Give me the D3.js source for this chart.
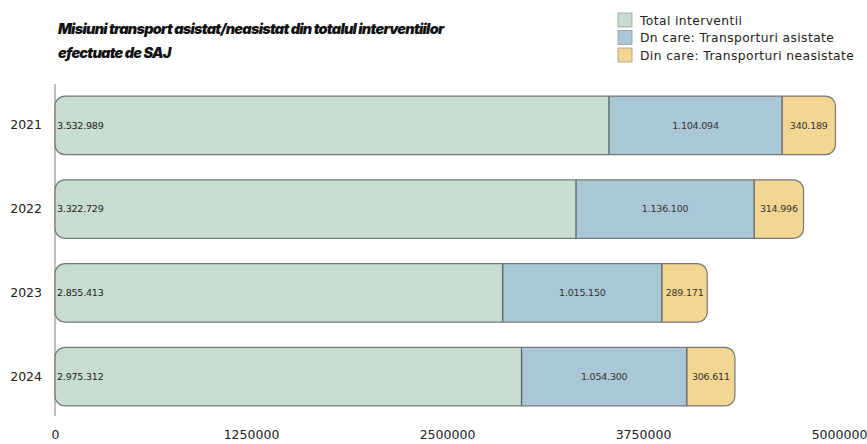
<!DOCTYPE html>
<html><head><meta charset="utf-8">
<script src="https://cdn.jsdelivr.net/npm/d3@7/dist/d3.min.js"></script>
<style>body{margin:0;background:#fff;}svg{display:block;}</style>
</head><body>
<script>
const years = ["2021","2022","2023","2024"];
const totalInterventii = [3532989, 3322729, 2855413, 2975312];
const transportAsistat = [1104094, 1136100, 1015150, 1054300];
const transportNeasistat = [340189, 314996, 289171, 306611];
const seriesNames = ["Total interventii","Dn care: Transporturi asistate","Din care: Transporturi neasistate"];
const seriesColors = ["#c7ddcf","#a9c7d6","#f3d691"];
const xTicks = [0, 1250000, 2500000, 3750000, 5000000];
const titleLines = ["Misiuni transport asistat/neasistat din totalul interventiilor","efectuate de SAJ"];

const W = 867, H = 444;
const svg = d3.select("body").append("svg").attr("width", W).attr("height", H);

const x = d3.scaleLinear().domain([0, 5000000]).range([55, 839]);
const y = d3.scaleBand().domain(years).range([71, 431]).padding(0.3);

const ro = d3.formatLocale({decimal: ",", thousands: ".", grouping: [3], currency: ["", ""]});
const fmt = ro.format(",d");
const sans = "DejaVu Sans";

// title
svg.append("g").selectAll("text").data(titleLines).join("text")
  .attr("x", 58).attr("y", (d, i) => 34 + i * 24)
  .attr("font-family", "Inter").attr("font-weight", 900).attr("font-style", "italic")
  .attr("font-size", 14.5).attr("letter-spacing", -0.75).attr("fill", "#111").text(d => d);

// legend
const lg = svg.append("g").attr("transform", "translate(618,13)");
seriesNames.forEach((n, i) => {
  lg.append("rect").attr("x", 0).attr("y", i * 17.5).attr("width", 14).attr("height", 14)
    .attr("fill", seriesColors[i]).attr("stroke", "#999").attr("stroke-width", 0.8);
  lg.append("text").attr("x", 22).attr("y", i * 17.5 + 11.5)
    .attr("font-family", sans).attr("font-size", 12.3).attr("letter-spacing", 0.4).attr("fill", "#222").text(n);
});

// axis line
svg.append("line").attr("x1", 55).attr("x2", 55).attr("y1", 84).attr("y2", 416)
  .attr("stroke", "#aaa").attr("stroke-width", 1.5);

// x axis labels
const xAxis = d3.axisBottom(x).tickValues(xTicks).tickFormat(d3.format("d")).tickSize(0).tickPadding(0);
const xg = svg.append("g").attr("transform", "translate(0,428)").call(xAxis);
xg.select(".domain").remove();
xg.selectAll("text").attr("font-family", sans).attr("font-size", 12.5).attr("fill", "#222").attr("dy", "0.9em");

// y labels
const yAxis = d3.axisLeft(y).tickSize(0).tickPadding(13);
const yg = svg.append("g").attr("transform", "translate(55,0)").call(yAxis);
yg.select(".domain").remove();
yg.selectAll("text").attr("font-family", sans).attr("font-size", 12.5).attr("fill", "#222");

const data = years.map((yr, i) => ({yr, vals: [totalInterventii[i], transportAsistat[i], transportNeasistat[i]]}));
const r = 10;
const defs = svg.append("defs");

data.forEach((d, i) => {
  const sum = d.vals[0] + d.vals[1] + d.vals[2];
  const y0 = y(d.yr), bh = y.bandwidth();
  const id = "clip" + i;
  defs.append("clipPath").attr("id", id).append("rect")
    .attr("x", x(0)).attr("y", y0).attr("width", x(sum) - x(0)).attr("height", bh).attr("rx", r);
  const g = svg.append("g");
  const segs = g.append("g").attr("clip-path", `url(#${id})`);
  let acc = 0;
  const starts = d.vals.map(v => { const s = acc; acc += v; return s; });
  segs.selectAll("rect").data(d.vals).join("rect")
    .attr("x", (v, j) => x(starts[j])).attr("y", y0)
    .attr("width", (v) => x(v) - x(0)).attr("height", bh)
    .attr("fill", (v, j) => seriesColors[j]);
  [1, 2].forEach(j => {
    g.append("line").attr("x1", x(starts[j])).attr("x2", x(starts[j]))
      .attr("y1", y0).attr("y2", y0 + bh).attr("stroke", "#555").attr("stroke-width", 1.2);
  });
  g.append("rect").attr("x", x(0)).attr("y", y0).attr("width", x(sum) - x(0)).attr("height", bh)
    .attr("rx", r).attr("fill", "none").attr("stroke", "#777").attr("stroke-width", 1.2);
  g.append("text").attr("x", x(0) + 2).attr("y", y0 + bh / 2).attr("dy", "0.35em")
    .attr("font-family", sans).attr("font-size", 9.5).attr("letter-spacing", -0.2).attr("fill", "#222").text(fmt(d.vals[0]));
  [1, 2].forEach(j => {
    g.append("text").attr("x", (x(starts[j]) + x(starts[j] + d.vals[j])) / 2).attr("y", y0 + bh / 2)
      .attr("dy", "0.35em").attr("text-anchor", "middle")
      .attr("font-family", sans).attr("font-size", 9.5).attr("letter-spacing", -0.2).attr("fill", "#333").text(fmt(d.vals[j]));
  });
});
</script>
</body></html>
